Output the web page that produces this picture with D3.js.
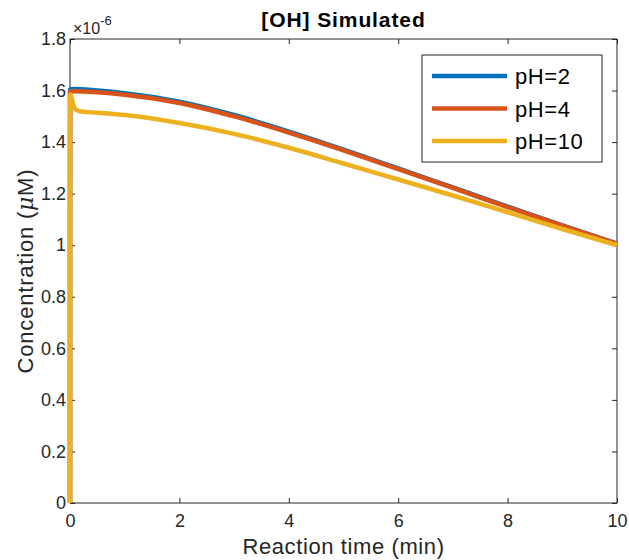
<!DOCTYPE html>
<html>
<head>
<meta charset="utf-8">
<title>[OH] Simulated</title>
<style>
  body { margin: 0; background: #fff; }
  svg { font-family: "Liberation Sans", Arial, Helvetica, sans-serif; }
  .axis path, .axis line { stroke: #262626; }
  .axis text { fill: #262626; font-size: 18px; }
</style>
</head>
<body>
<svg id="chart" width="629" height="560"></svg>
<script src="https://d3js.org/d3.v7.min.js"></script>
<script>
// reaction time (min) and concentration (x1e-6)
const tPH2 = [0, 0.0005, 0.002, 0.05, 0.5, 1, 2, 3, 4, 5, 6, 7, 8, 9, 10];
const cPH2 = [0, 1.2, 1.604, 1.606, 1.600, 1.590, 1.557, 1.505, 1.441, 1.371, 1.298, 1.224, 1.150, 1.077, 1.006];
const tPH4 = [0, 0.0005, 0.002, 0.05, 0.5, 1, 2, 3, 4, 5, 6, 7, 8, 9, 10];
const cPH4 = [0, 1.2, 1.595, 1.597, 1.593, 1.584, 1.552, 1.500, 1.437, 1.368, 1.295, 1.222, 1.148, 1.076, 1.005];
const tPH10 = [0, 0.0005, 0.002, 0.01, 0.03, 0.06, 0.1, 0.2, 0.5, 1, 2, 3, 4, 5, 6, 7, 8, 9, 10];
const cPH10 = [0, 1.2, 1.575, 1.585, 1.57, 1.545, 1.527, 1.519, 1.514, 1.505, 1.474, 1.432, 1.378, 1.317, 1.255, 1.193, 1.128, 1.063, 1.0];

const seriesNames = ["pH=2", "pH=4", "pH=10"];
const seriesColors = ["#0072BD", "#D95319", "#EDB120"];
const xTicks = [0, 2, 4, 6, 8, 10];
const yTicks = [0, 0.2, 0.4, 0.6, 0.8, 1, 1.2, 1.4, 1.6, 1.8];

const series = [
  tPH2.map((t, i) => ({ t: t, c: cPH2[i] })),
  tPH4.map((t, i) => ({ t: t, c: cPH4[i] })),
  tPH10.map((t, i) => ({ t: t, c: cPH10[i] }))
];

const margin = { left: 70, right: 12, top: 39, bottom: 57 };
const W = 629, H = 560;
const svg = d3.select("#chart");

const x = d3.scaleLinear().domain([0, 10]).range([margin.left, W - margin.right]);
const y = d3.scaleLinear().domain([0, 1.8]).range([H - margin.bottom, margin.top]);

const fmt = d => d === 0 ? "0" : (Number.isInteger(d) ? String(d) : d.toFixed(1));

// axes (box with inward ticks), drawn under the lines
const tk = 5;
svg.append("g").attr("class", "axis").attr("transform", `translate(0,${y(0)})`)
  .call(d3.axisBottom(x).tickValues(xTicks).tickSize(-tk).tickPadding(11).tickFormat(fmt))
  .call(g => g.select(".domain").attr("d", `M${x(0)},0H${x(10)}`));
svg.append("g").attr("class", "axis").attr("transform", `translate(0,${y(1.8)})`)
  .call(d3.axisTop(x).tickValues(xTicks).tickSize(-tk).tickFormat(""))
  .call(g => g.select(".domain").attr("d", `M${x(0)},0H${x(10)}`));
svg.append("g").attr("class", "axis").attr("transform", `translate(${x(0)},0)`)
  .call(d3.axisLeft(y).tickValues(yTicks).tickSize(-tk).tickPadding(4).tickFormat(fmt))
  .call(g => g.select(".domain").attr("d", `M0,${y(0)}V${y(1.8)}`));
svg.append("g").attr("class", "axis").attr("transform", `translate(${x(10)},0)`)
  .call(d3.axisRight(y).tickValues(yTicks).tickSize(-tk).tickFormat(""))
  .call(g => g.select(".domain").attr("d", `M0,${y(0)}V${y(1.8)}`));

// lines
const line = d3.line().x(d => x(d.t)).y(d => y(d.c)).curve(d3.curveMonotoneX);
svg.append("clipPath").attr("id", "clip").append("rect")
  .attr("x", x(0) - 3).attr("y", y(1.8)).attr("width", x(10) - x(0) + 3).attr("height", y(0) - y(1.8));
svg.append("g").attr("clip-path", "url(#clip)")
  .selectAll("path").data(series).enter().append("path")
  .attr("fill", "none")
  .attr("stroke", (d, i) => seriesColors[i])
  .attr("stroke-width", 4.5)
  .attr("stroke-linejoin", "round")
  .attr("d", line);

// exponent
const ex = svg.append("text").attr("x", x(0) + 3).attr("y", 34).attr("fill", "#262626").style("font-size", "16px");
ex.append("tspan").text("×10");
ex.append("tspan").attr("dy", -9).style("font-size", "13px").text("-6");

// title
svg.append("text").attr("x", (x(0) + x(10)) / 2).attr("y", 27).attr("text-anchor", "middle")
  .attr("fill", "#000").style("font-size", "21px").style("font-weight", "bold")
  .style("letter-spacing", "0.9px").text("[OH] Simulated");

// axis labels
svg.append("text").attr("x", (x(0) + x(10)) / 2).attr("y", 554).attr("text-anchor", "middle")
  .attr("fill", "#262626").style("font-size", "22px").style("letter-spacing", "0.6px").text("Reaction time (min)");
const yl = svg.append("text").attr("transform", `translate(33,${(y(0) + y(1.8)) / 2}) rotate(-90)`)
  .attr("text-anchor", "middle").attr("fill", "#262626").style("font-size", "22px").style("letter-spacing", "0.8px");
yl.append("tspan").text("Concentration (");
yl.append("tspan").style("font-family", "'DejaVu Serif', serif").style("font-style", "italic").text("μ");
yl.append("tspan").text("M)");

// legend
const lg = svg.append("g");
lg.append("rect").attr("x", 422).attr("y", 55).attr("width", 180).attr("height", 107)
  .attr("fill", "#fff").attr("stroke", "#262626").attr("stroke-width", 1);
const rows = lg.selectAll("g.row").data(seriesNames).enter().append("g").attr("class", "row")
  .attr("transform", (d, i) => `translate(0,${76 + i * 32.5})`);
rows.append("line").attr("x1", 432).attr("x2", 507).attr("y1", 0).attr("y2", 0)
  .attr("stroke", (d, i) => seriesColors[i]).attr("stroke-width", 4.5);
rows.append("text").attr("x", 515).attr("y", 8).attr("fill", "#000").style("font-size", "22px")
  .style("letter-spacing", "0.6px").text(d => d);
</script>
</body>
</html>
